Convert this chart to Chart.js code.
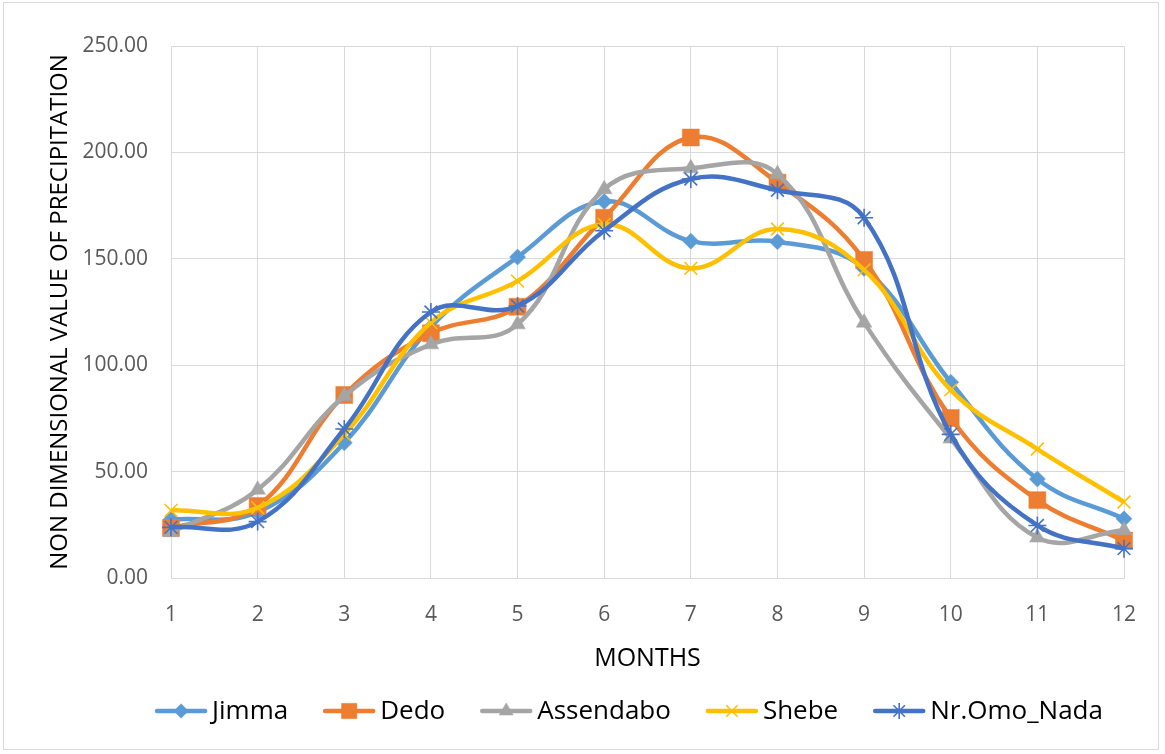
<!DOCTYPE html>
<html>
<head>
<meta charset="utf-8">
<script src="https://cdn.jsdelivr.net/npm/chart.js@4.4.1/dist/chart.umd.min.js"></script>
<style>
  html, body { margin: 0; padding: 0; background: #ffffff; }
  #wrap { position: relative; width: 1165px; height: 754px; }
  #frame { position: absolute; left: 3px; top: 2px; width: 1156px; height: 748px; border: 1px solid #d9d9d9; box-sizing: border-box; pointer-events: none; }
</style>
</head>
<body>
<div id="wrap">
  <canvas id="chart" width="1165" height="754"></canvas>
  <div id="frame"></div>
</div>
<script>
// Months on the category axis
const months = ['1', '2', '3', '4', '5', '6', '7', '8', '9', '10', '11', '12'];

// Non-dimensional monthly precipitation per station
const jimma     = [27.5, 31.0, 63.5, 118.0, 150.8, 176.9, 158.3, 158.0, 145.5, 92.0, 46.5, 27.8];
const dedo      = [23.5, 33.8, 86.0, 115.0, 127.5, 169.3, 207.0, 185.8, 149.5, 75.2, 36.6, 17.6];
const assendabo = [21.5, 41.5, 85.5, 109.8, 119.2, 182.7, 192.5, 189.8, 120.0, 65.5, 19.0, 22.4];
const shebe     = [31.8, 33.0, 67.5, 120.0, 139.5, 166.2, 145.5, 164.0, 144.8, 88.4, 60.6, 35.7];
const nrOmoNada = [23.8, 26.5, 70.0, 125.0, 127.8, 163.2, 187.5, 182.2, 169.3, 67.5, 24.7, 13.8];

const yTicks = [0, 50, 100, 150, 200, 250];

const FONT = "'Open Sans', 'Liberation Sans', sans-serif";

function series(label, data, color, style, radius, order) {
  const filled = !(style === 'crossRot' || style === 'star');
  return {
    label: label,
    data: data,
    borderColor: color,
    backgroundColor: color,
    borderWidth: 4.5,
    tension: 0.4,
    pointStyle: style,
    pointRadius: radius,
    pointHoverRadius: radius,
    pointBackgroundColor: color,
    pointBorderColor: color,
    pointBorderWidth: filled ? 0.5 : 1.6,
    order: order
  };
}

// Later series are painted over earlier ones
const datasets = [
  series('Jimma', jimma, '#5B9BD5', 'rectRot', 8, 5),
  series('Dedo', dedo, '#ED7D31', 'rect', 12, 4),
  series('Assendabo', assendabo, '#A5A5A5', 'triangle', 9, 3),
  series('Shebe', shebe, '#FFC000', 'crossRot', 9, 2),
  series('Nr.Omo_Nada', nrOmoNada, '#4472C4', 'star', 9, 1)
];

// Legend row under the axis title: line swatch with marker, then the name
const lineLegend = {
  id: 'lineLegend',
  afterDraw(chart, args, opts) {
    const ctx = chart.ctx;
    const sets = chart.data.datasets;
    ctx.save();
    ctx.font = opts.size + 'px ' + FONT;
    const widths = sets.map(ds => opts.swatch + opts.textGap + ctx.measureText(ds.label).width);
    const total = widths.reduce((a, b) => a + b, 0) + opts.itemGap * (sets.length - 1);
    let x = opts.centerX - total / 2;
    const y = opts.y;
    sets.forEach((ds, i) => {
      ctx.strokeStyle = ds.borderColor;
      ctx.lineWidth = 4.5;
      ctx.lineCap = 'round';
      ctx.beginPath();
      ctx.moveTo(x + 2, y);
      ctx.lineTo(x + opts.swatch - 2, y);
      ctx.stroke();
      ctx.fillStyle = ds.pointBackgroundColor;
      ctx.strokeStyle = ds.pointBorderColor;
      ctx.lineWidth = ds.pointBorderWidth;
      ctx.lineCap = 'butt';
      Chart.helpers.drawPoint(ctx, {
        pointStyle: ds.pointStyle,
        radius: ds.pointRadius * 0.9,
        borderWidth: ds.pointBorderWidth,
        rotation: 0
      }, x + opts.swatch / 2, y);
      ctx.fillStyle = '#000000';
      ctx.textAlign = 'left';
      ctx.textBaseline = 'middle';
      ctx.fillText(ds.label, x + opts.swatch + opts.textGap, y + 1);
      x += widths[i] + opts.itemGap;
    });
    ctx.restore();
  }
};

new Chart(document.getElementById('chart'), {
  type: 'line',
  data: { labels: months, datasets: datasets },
  plugins: [lineLegend],
  options: {
    responsive: false,
    animation: false,
    layout: { padding: { top: 46, right: 41, left: 0, bottom: 80 } },
    plugins: {
      tooltip: { enabled: false },
      legend: { display: false },
      lineLegend: { centerX: 629, y: 711, size: 26, swatch: 52, textGap: 5, itemGap: 35 }
    },
    scales: {
      x: {
        type: 'category',
        offset: false,
        afterFit: (axis) => { axis.height = 96; },
        grid: { color: '#d9d9d9', lineWidth: 1, drawTicks: false },
        border: { color: '#d9d9d9', width: 1 },
        ticks: { color: '#595959', padding: 24, font: { family: FONT, size: 21 }, maxRotation: 0 },
        title: { display: true, text: 'MONTHS', color: '#000000', font: { family: FONT, size: 25 }, padding: { top: 0, bottom: 0 } }
      },
      y: {
        min: 0,
        max: 250,
        afterBuildTicks: (axis) => { axis.ticks = yTicks.map(v => ({ value: v })); },
        afterFit: (axis) => { axis.width = 171; },
        grid: { color: '#d9d9d9', lineWidth: 1, drawTicks: false },
        border: { color: '#d9d9d9', width: 1 },
        ticks: { color: '#595959', padding: 23, font: { family: FONT, size: 21 }, callback: (v) => Number(v).toFixed(2) },
        title: { display: true, text: 'NON DIMENSIONAL VALUE OF PRECIPITATION', color: '#000000', font: { family: FONT, size: 24 }, padding: { top: 46, bottom: 0 } }
      }
    }
  }
});
</script>
</body>
</html>
